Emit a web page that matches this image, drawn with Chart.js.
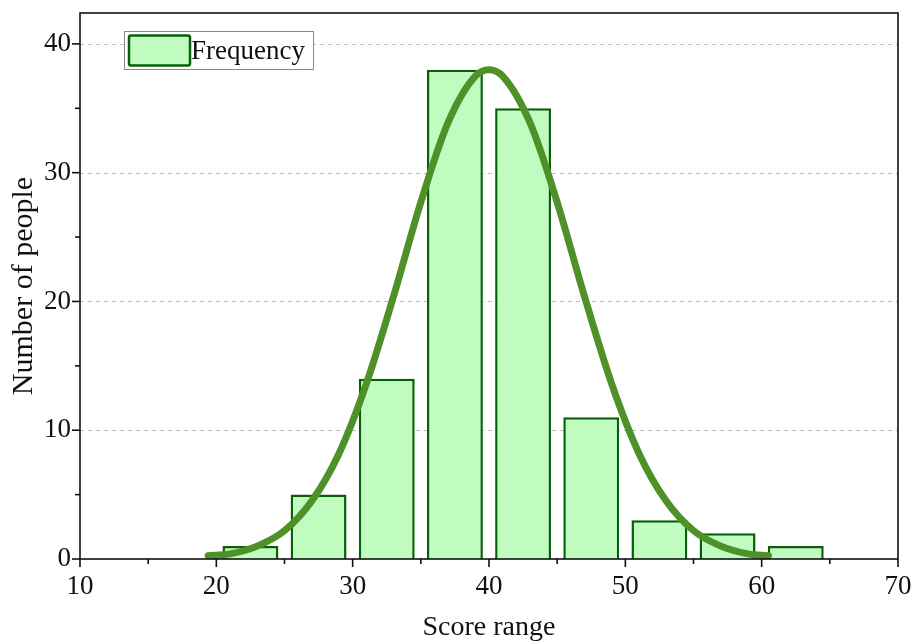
<!DOCTYPE html>
<html>
<head>
<meta charset="utf-8">
<script src="https://cdn.jsdelivr.net/npm/chart.js@4.4.1/dist/chart.umd.min.js"></script>
<style>
  html, body { margin: 0; padding: 0; background: #fff; }
  #wrap { width: 914px; height: 642px; }
</style>
</head>
<body>
<div id="wrap"><canvas id="histChart" width="914" height="642"></canvas></div>
<script>
// histogram bins (centres) and counts
const binCenters = [22.5, 27.5, 32.5, 37.5, 42.5, 47.5, 52.5, 57.5, 62.5];
const counts = [1, 5, 14, 38, 35, 11, 3, 2, 1];

// fitted curve
const curveX = [19.4, 21, 23, 25, 27, 29, 31, 33, 35, 37, 39, 40, 41, 43, 45, 47, 49, 51, 53, 55, 57, 59, 60.5];
const curveY = [0.25, 0.4, 1.0, 2.2, 4.5, 8.2, 13.6, 20.4, 27.7, 33.9, 37.5, 38, 37.5, 33.9, 27.7, 20.4, 13.6, 8.2, 4.5, 2.2, 1.0, 0.4, 0.25];

// axis ticks
const xTicks = [10, 20, 30, 40, 50, 60, 70];
const yTicks = [0, 10, 20, 30, 40];

const serif = "'Liberation Serif', 'Times New Roman', serif";
const barFill = 'rgb(192, 252, 192)';
const barEdge = 'rgb(6, 96, 6)';
const curveColor = 'rgb(78, 145, 40)';

// gridlines, frame, ticks and legend drawn with the chart's own scales
const framePlugin = {
    id: 'frame',
    beforeDatasetsDraw(chart) {
        const { ctx, chartArea: a, scales: { y } } = chart;
        ctx.save();
        ctx.strokeStyle = '#bdbdbd';
        ctx.lineWidth = 1;
        ctx.setLineDash([4, 4]);
        yTicks.forEach(v => {
            if (v === 0) return;
            const py = Math.round(y.getPixelForValue(v)) + 0.5;
            ctx.beginPath();
            ctx.moveTo(a.left, py);
            ctx.lineTo(a.right, py);
            ctx.stroke();
        });
        ctx.restore();
    },
    afterDatasetsDraw(chart) {
        const { ctx, chartArea: a, scales: { x, y } } = chart;
        ctx.save();
        ctx.strokeStyle = '#111';
        ctx.lineWidth = 1.6;
        ctx.strokeRect(a.left, a.top, a.right - a.left, a.bottom - a.top);

        // ticks outward, major every 10, minor every 5
        for (let v = 10; v <= 70; v += 5) {
            const px = x.getPixelForValue(v);
            const len = v % 10 === 0 ? 8 : 5;
            ctx.beginPath();
            ctx.moveTo(px, a.bottom);
            ctx.lineTo(px, a.bottom + len);
            ctx.stroke();
        }
        for (let v = 0; v <= 40; v += 5) {
            const py = y.getPixelForValue(v);
            const len = v % 10 === 0 ? 8 : 5;
            ctx.beginPath();
            ctx.moveTo(a.left, py);
            ctx.lineTo(a.left - len, py);
            ctx.stroke();
        }

        // legend
        const ds = chart.data.datasets[1];
        ctx.setLineDash([]);
        ctx.fillStyle = '#fff';
        ctx.fillRect(124.5, 31.5, 189, 38);
        ctx.strokeStyle = '#8a8a8a';
        ctx.lineWidth = 1;
        ctx.strokeRect(124.5, 31.5, 189, 38);
        ctx.fillStyle = ds.backgroundColor;
        ctx.strokeStyle = ds.borderColor;
        ctx.lineWidth = 2.5;
        ctx.beginPath();
        ctx.roundRect(129, 35.5, 61, 30, 2);
        ctx.fill();
        ctx.stroke();
        ctx.fillStyle = '#111';
        ctx.font = '27px ' + serif;
        ctx.textBaseline = 'middle';
        ctx.fillText(ds.label, 191, 52);
        ctx.restore();
    }
};

const ctx = document.getElementById('histChart').getContext('2d');

new Chart(ctx, {
    type: 'bar',
    data: {
        datasets: [
            {
                type: 'line',
                label: 'Fit',
                data: curveX.map((v, i) => ({ x: v, y: curveY[i] })),
                borderColor: curveColor,
                borderWidth: 7,
                pointRadius: 0,
                cubicInterpolationMode: 'monotone',
                borderCapStyle: 'round',
                fill: false,
                order: 0
            },
            {
                type: 'bar',
                label: 'Frequency',
                data: binCenters.map((v, i) => ({ x: v, y: counts[i] })),
                backgroundColor: barFill,
                borderColor: barEdge,
                borderWidth: 2.5,
                barPercentage: 1,
                categoryPercentage: 0.82,
                order: 1
            }
        ]
    },
    options: {
        responsive: false,
        devicePixelRatio: 1,
        animation: false,
        layout: { padding: { top: 13, right: 16, left: 0, bottom: 0 } },
        plugins: {
            legend: { display: false },
            tooltip: { enabled: false }
        },
        scales: {
            x: {
                type: 'linear',
                min: 10,
                max: 70,
                offset: false,
                grid: { display: false, drawTicks: false, offset: false },
                border: { display: false },
                ticks: {
                    stepSize: 10,
                    autoSkip: false,
                    maxRotation: 0,
                    padding: 12,
                    color: '#111',
                    font: { family: serif, size: 27 },
                    callback: v => xTicks.includes(v) ? v : ''
                },
                title: {
                    display: true,
                    text: 'Score range',
                    color: '#111',
                    font: { family: serif, size: 28, lineHeight: 1 },
                    padding: { top: 0, bottom: 0 }
                },
                afterFit(scale) {
                    scale.height = 83;
                    scale.paddingLeft = 0;
                    scale.paddingRight = 0;
                }
            },
            y: {
                min: 0,
                max: 42.4,
                grid: { display: false, drawTicks: false },
                border: { display: false },
                ticks: {
                    stepSize: 10,
                    autoSkip: false,
                    includeBounds: false,
                    padding: 9,
                    color: '#111',
                    font: { family: serif, size: 27 },
                    callback: v => yTicks.includes(v) ? v : ''
                },
                title: {
                    display: true,
                    text: 'Number of people',
                    color: '#111',
                    font: { family: serif, size: 30 },
                    padding: { top: 6, bottom: 0 }
                },
                afterFit(scale) {
                    scale.width = 80;
                    scale.paddingTop = 0;
                    scale.paddingBottom = 0;
                }
            }
        }
    },
    plugins: [framePlugin]
});
</script>
</body>
</html>
